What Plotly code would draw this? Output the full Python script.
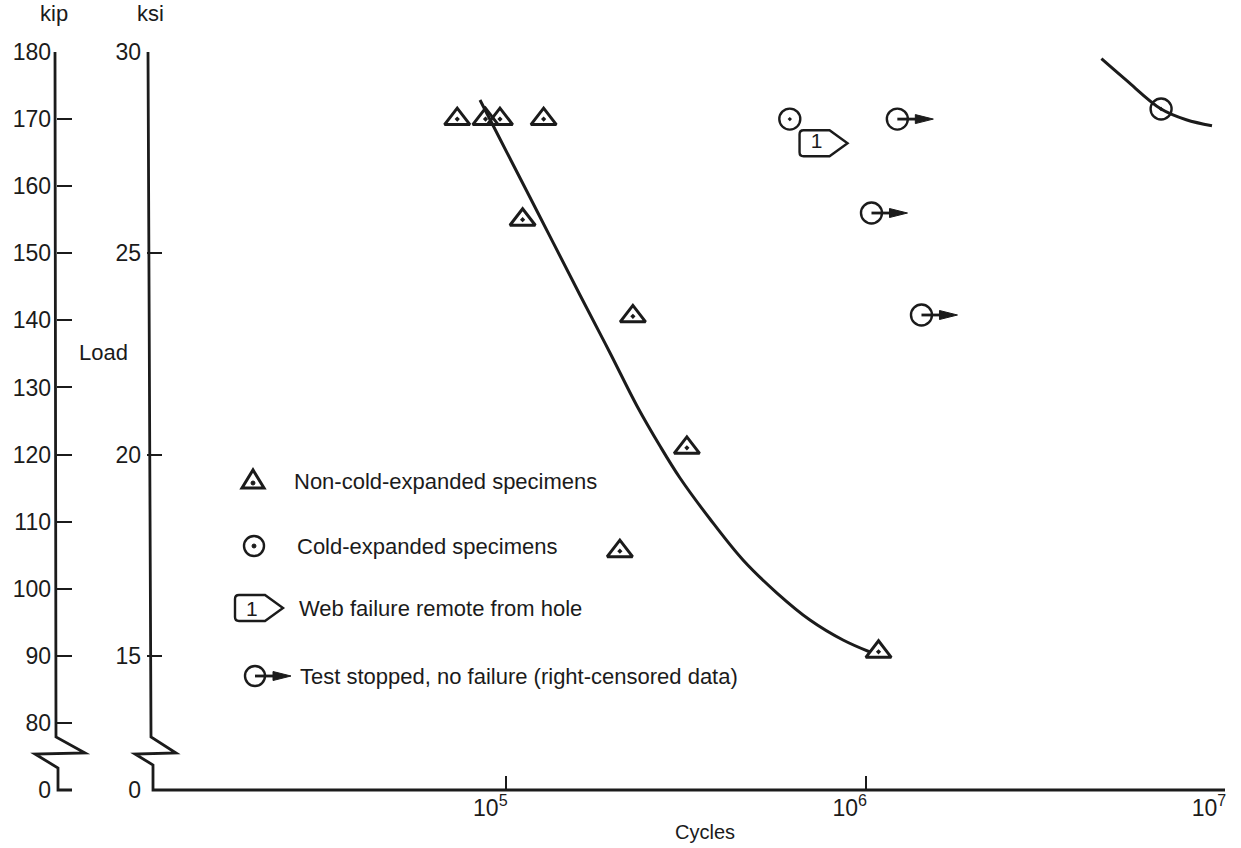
import plotly.graph_objects as go

# ---------------- data ----------------
# Non-cold-expanded specimens (triangles): cycles, load in kip
nce_cycles = [7.3e4, 8.75e4, 9.6e4, 1.27e5, 1.11e5, 2.25e5, 3.18e5, 2.07e5, 1.086e6]
nce_load = [170, 170, 170, 170, 155, 140.6, 121, 105.6, 90.6]

# Cold-expanded specimens (failed)
ce_cycles = [6.15e5, 6.64e6]
ce_load = [170, 171.5]

# Cold-expanded, test stopped without failure (right-censored)
cens_cycles = [1.225e6, 1.038e6, 1.43e6]
cens_load = [170, 156, 140.8]

# Web failure remote from hole (tag)
web_cycles = [7.3e5]
web_load = [166.4]
web_label = ["1"]

# Fitted curves
curve_nce_cycles = [84470, 96020, 124100, 160300, 194400, 231000, 267700, 304300,
                    368800, 455700, 566500, 699900, 864900, 1028000]
curve_nce_load = [172.85, 167.03, 155.41, 143.78, 135.14, 127.24, 121.27, 116.50,
                  110.39, 104.28, 99.36, 95.34, 92.36, 90.57]
curve_ce_cycles = [4.53e6, 5.31e6, 6.64e6, 7.80e6, 9.20e6]
curve_ce_load = [179.0, 175.8, 171.5, 169.9, 169.0]

# Axis ticks
kip_ticks = [0, 80, 90, 100, 110, 120, 130, 140, 150, 160, 170, 180]
ksi_ticks = [0, 15, 20, 25, 30]
x_ticks = [1e5, 1e6, 1e7]
x_tick_labels = ["10<sup>5</sup>", "10<sup>6</sup>", "10<sup>7</sup>"]
BREAK_BASE = 70          # kip position where the broken axis shows "0"
KSI_PER_KIP = 1 / 6.0

legend_labels = ["Non-cold-expanded specimens", "Cold-expanded specimens",
                 "Web failure remote from hole",
                 "Test stopped, no failure (right-censored data)"]

# ---------------- layout geometry ----------------
W, H = 1241, 848
ML, MR, MT, MB = 0, 16, 52, 58
PW = W - ML - MR
PH = H - MT - MB
FONT = "Liberation Sans, Arial, Helvetica, sans-serif"
INK = "#1b1b1b"


def fx(px):
    return (px - ML) / PW


def fy(py):
    return (H - MB - py) / PH


def pth(points):
    return "M " + " L ".join(f"{fx(a):.5f},{fy(b):.5f}" for a, b in points)


kip_pos = [BREAK_BASE if v == 0 else v for v in kip_ticks]
ksi_pos = [BREAK_BASE if v == 0 else v / KSI_PER_KIP for v in ksi_ticks]

fig = go.Figure()

# curves
fig.add_trace(go.Scatter(x=curve_nce_cycles, y=curve_nce_load, mode="lines",
                         line=dict(color=INK, width=3, shape="spline", smoothing=1.0),
                         showlegend=False, hoverinfo="skip"))
fig.add_trace(go.Scatter(x=curve_ce_cycles, y=curve_ce_load, mode="lines",
                         line=dict(color=INK, width=3, shape="spline", smoothing=1.0),
                         showlegend=False, hoverinfo="skip"))

# markers
fig.add_trace(go.Scatter(x=nce_cycles, y=nce_load, mode="markers",
                         marker=dict(symbol="triangle-up-open-dot", size=22,
                                     color=INK, line=dict(width=3, color=INK)),
                         showlegend=False))
fig.add_trace(go.Scatter(x=ce_cycles, y=ce_load, mode="markers",
                         marker=dict(symbol="circle-open-dot", size=21,
                                     color=INK, line=dict(width=2.4, color=INK)),
                         showlegend=False))
fig.add_trace(go.Scatter(x=cens_cycles, y=cens_load, mode="markers",
                         marker=dict(symbol="circle-open", size=21,
                                     color=INK, line=dict(width=2.4, color=INK)),
                         showlegend=False))
fig.add_trace(go.Scatter(x=web_cycles, y=web_load, mode="text", text=web_label,
                         textfont=dict(family=FONT, size=21, color=INK),
                         showlegend=False))

shapes = []
# --- axis lines with breaks (drawn, since they zig-zag) ---
shapes.append(dict(type="path", xref="paper", yref="paper",
                   path=pth([(55, 52), (56, 737), (85, 753), (35, 754), (58, 768),
                             (58, 790), (72, 790)]),
                   line=dict(color=INK, width=2.8)))
shapes.append(dict(type="path", xref="paper", yref="paper",
                   path=pth([(148, 52), (151, 737), (176, 753), (135, 754), (153, 765),
                             (153, 790), (1225, 790)]),
                   line=dict(color=INK, width=2.8)))

# --- censored arrows anchored at data points ---
ARROW_LINE = "M 0,0 L 22,0"
ARROW_HEAD = "M 18,-4.5 L 36,0 L 18,4.5 Z"
for cx, cy in zip(cens_cycles, cens_load):
    shapes.append(dict(type="path", xref="x", yref="y", xsizemode="pixel",
                       ysizemode="pixel", xanchor=cx, yanchor=cy, path=ARROW_LINE,
                       line=dict(color=INK, width=2.8)))
    shapes.append(dict(type="path", xref="x", yref="y", xsizemode="pixel",
                       ysizemode="pixel", xanchor=cx, yanchor=cy, path=ARROW_HEAD,
                       fillcolor=INK, line=dict(color=INK, width=1)))

# --- web-failure tag outline ---
TAG = ("M -13,-13 L 13,-13 L 31,0 L 13,13 L -13,13 Q -17,13 -17,9 "
       "L -17,-9 Q -17,-13 -13,-13 Z")
for wx, wy in zip(web_cycles, web_load):
    shapes.append(dict(type="path", xref="x", yref="y", xsizemode="pixel",
                       ysizemode="pixel", xanchor=wx, yanchor=wy, path=TAG,
                       line=dict(color=INK, width=2.4)))

# --- hand-drawn legend keys ---
rows_y = [481, 546, 608, 676]
text_x = [292, 295, 297, 298]


def pix_shape(px, py, **kw):
    d = dict(xref="paper", yref="paper", xsizemode="pixel", ysizemode="pixel",
             xanchor=fx(px), yanchor=fy(py))
    d.update(kw)
    return d


# triangle with dot
shapes.append(pix_shape(253, rows_y[0], type="path", path="M -11,-7 L 11,-7 L 0,11 Z",
                        line=dict(color=INK, width=3)))
shapes.append(pix_shape(253, rows_y[0], type="circle", x0=-2, x1=2, y0=-4, y1=0,
                        fillcolor=INK, line=dict(color=INK, width=1)))
# circle with dot
shapes.append(pix_shape(254, rows_y[1], type="circle", x0=-10, x1=10, y0=-10, y1=10,
                        line=dict(color=INK, width=2.4)))
shapes.append(pix_shape(254, rows_y[1], type="circle", x0=-2, x1=2, y0=-2, y1=2,
                        fillcolor=INK, line=dict(color=INK, width=1)))
# tag
shapes.append(pix_shape(252, rows_y[2], type="path", path=TAG,
                        line=dict(color=INK, width=2.4)))
# circle with arrow
shapes.append(pix_shape(255, rows_y[3], type="circle", x0=-10, x1=10, y0=-10, y1=10,
                        line=dict(color=INK, width=2.4)))
shapes.append(pix_shape(255, rows_y[3], type="path", path=ARROW_LINE,
                        line=dict(color=INK, width=2.8)))
shapes.append(pix_shape(255, rows_y[3], type="path", path=ARROW_HEAD,
                        fillcolor=INK, line=dict(color=INK, width=1)))

annotations = []
for lab, ty, tx in zip(legend_labels, rows_y, text_x):
    annotations.append(dict(xref="paper", yref="paper", x=fx(tx), y=fy(ty),
                            xanchor="left", yanchor="middle", text=lab, showarrow=False,
                            font=dict(family=FONT, size=22, color=INK)))
annotations.append(dict(xref="paper", yref="paper", x=fx(252), y=fy(rows_y[2]),
                        xanchor="center", yanchor="middle", text=web_label[0],
                        showarrow=False, font=dict(family=FONT, size=21, color=INK)))
annotations += [
    dict(xref="paper", yref="paper", x=fx(54), y=fy(13), text="kip", showarrow=False,
         xanchor="center", yanchor="middle", font=dict(family=FONT, size=22, color=INK)),
    dict(xref="paper", yref="paper", x=fx(150), y=fy(13), text="ksi", showarrow=False,
         xanchor="center", yanchor="middle", font=dict(family=FONT, size=22, color=INK)),
    dict(xref="paper", yref="paper", x=fx(77), y=fy(352), text="Load", showarrow=False,
         xanchor="left", yanchor="middle", font=dict(family=FONT, size=22, color=INK)),
    dict(xref="paper", yref="paper", x=fx(705), y=fy(832), text="Cycles", showarrow=False,
         xanchor="center", yanchor="middle", font=dict(family=FONT, size=20, color=INK)),
]

fig.update_layout(
    width=W, height=H,
    margin=dict(l=ML, r=MR, t=MT, b=MB),
    paper_bgcolor="white", plot_bgcolor="white",
    showlegend=False,
    font=dict(family=FONT, color=INK),
    xaxis=dict(type="log", range=[4, 7], domain=[fx(147), 1.0],
               tickvals=x_ticks, ticktext=x_tick_labels,
               ticks="inside", ticklen=14, tickwidth=2, tickcolor=INK,
               showline=False, showgrid=False, zeroline=False,
               tickfont=dict(family=FONT, size=23, color=INK),
               ticklabelshift=-16, ticklabelstandoff=2, automargin=False),
    yaxis=dict(range=[BREAK_BASE, 180], tickvals=ksi_pos,
               ticktext=[str(v) for v in ksi_ticks],
               ticks="inside", ticklen=15, tickwidth=2.2, tickcolor=INK,
               showline=False, showgrid=False, zeroline=False,
               tickfont=dict(family=FONT, size=23, color=INK),
               ticklabelstandoff=5, automargin=False),
    yaxis2=dict(range=[BREAK_BASE, 180], overlaying="y", anchor="free",
                position=fx(56), side="left", tickvals=kip_pos,
                ticktext=[str(v) for v in kip_ticks],
                ticks="inside", ticklen=15, tickwidth=2.2, tickcolor=INK,
                showline=False, showgrid=False, zeroline=False,
                tickfont=dict(family=FONT, size=23, color=INK),
                ticklabelstandoff=5, automargin=False),
    shapes=shapes,
    annotations=annotations,
)

# dummy trace to activate the kip axis
fig.add_trace(go.Scatter(x=[None], y=[None], yaxis="y2", showlegend=False,
                         hoverinfo="skip"))

fig.write_html("out.html")
